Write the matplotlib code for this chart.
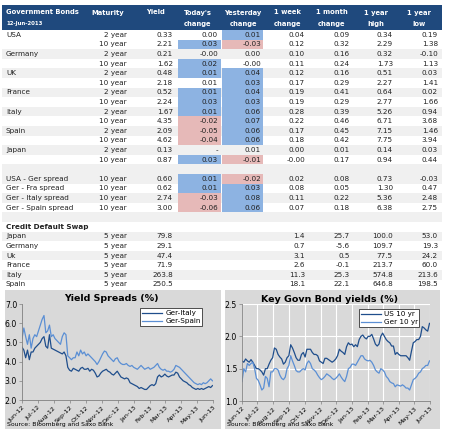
import matplotlib
matplotlib.use("Agg")
import matplotlib.pyplot as plt
import matplotlib.dates as mdates
from matplotlib.patches import Rectangle
import pandas as pd

# ---------------- table data ----------------
bond_country = ["USA", "", "Germany", "", "UK", "", "France", "", "Italy", "", "Spain", "", "Japan", ""]
bond_maturity = ["2 year", "10 year"] * 7
bond_yield = ["0.33", "2.21", "0.21", "1.62", "0.48", "2.18", "0.52", "2.24", "1.67", "4.35", "2.09", "4.62", "0.13", "0.87"]
bond_today = ["0.00", "0.03", "-0.00", "0.02", "0.01", "0.01", "0.01", "0.03", "0.01", "-0.02", "-0.05", "-0.04", "-", "0.03"]
bond_yday = ["0.01", "-0.03", "0.00", "-0.00", "0.04", "0.03", "0.04", "0.03", "0.06", "0.07", "0.06", "0.06", "0.01", "-0.01"]
bond_week = ["0.04", "0.12", "0.10", "0.11", "0.12", "0.17", "0.19", "0.19", "0.28", "0.22", "0.17", "0.18", "0.00", "-0.00"]
bond_month = ["0.09", "0.32", "0.16", "0.24", "0.16", "0.29", "0.41", "0.29", "0.39", "0.46", "0.45", "0.42", "0.01", "0.17"]
bond_high = ["0.34", "2.29", "0.32", "1.73", "0.51", "2.27", "0.64", "2.77", "5.26", "6.71", "7.15", "7.75", "0.14", "0.94"]
bond_low = ["0.19", "1.38", "-0.10", "1.13", "0.03", "1.41", "0.02", "1.66", "0.94", "3.68", "1.46", "3.94", "0.03", "0.44"]
bond_today_flag = ["", "b", "", "b", "b", "", "b", "b", "b", "p", "p", "p", "", "b"]
bond_yday_flag = ["b", "p", "", "", "b", "b", "b", "b", "b", "b", "b", "b", "", "p"]

spread_names = ["USA - Ger spread", "Ger - Fra spread", "Ger - Italy spread", "Ger - Spain spread"]
spread_maturity = ["10 year"] * 4
spread_yield = ["0.60", "0.62", "2.74", "3.00"]
spread_today = ["0.01", "0.01", "-0.03", "-0.06"]
spread_yday = ["-0.02", "0.03", "0.08", "0.06"]
spread_week = ["0.02", "0.08", "0.11", "0.07"]
spread_month = ["0.08", "0.05", "0.22", "0.18"]
spread_high = ["0.73", "1.30", "5.36", "6.38"]
spread_low = ["-0.03", "0.47", "2.48", "2.75"]
spread_today_flag = ["b", "b", "p", "p"]
spread_yday_flag = ["p", "b", "b", "b"]

cds_names = ["Japan", "Germany", "Uk", "France", "Italy", "Spain"]
cds_maturity = ["5 year"] * 6
cds_level = ["79.8", "29.1", "47.4", "71.9", "263.8", "250.5"]
cds_week = ["1.4", "0.7", "3.1", "2.6", "11.3", "18.1"]
cds_month = ["25.7", "-5.6", "0.5", "-0.1", "25.3", "22.1"]
cds_high = ["100.0", "109.7", "77.5", "213.7", "574.8", "646.8"]
cds_low = ["53.0", "19.3", "24.2", "60.0", "213.6", "198.5"]

header_labels = ["Maturity", "Yield", "Today's\nchange", "Yesterday\nchange", "1 week\nchange",
                 "1 month\nchange", "1 year\nhigh", "1 year\nlow"]

# ---------------- chart data (~every 3.5 days) ----------------
ger_italy = [4.75, 4.6, 4.2, 4.6, 4.1, 4.5, 4.5, 4.7, 4.8, 4.9, 5.0, 5.2, 5.3, 4.8, 4.7,
             5.4, 4.7, 4.65, 4.6, 4.55, 4.5, 4.45, 4.4, 4.5, 4.3, 3.7, 3.55, 3.5, 3.65, 3.6,
             3.55, 3.5, 3.65, 3.7, 3.6, 3.6, 3.65, 3.5, 3.6, 3.55, 3.4, 3.2, 3.25, 3.4, 3.5,
             3.55, 3.6, 3.5, 3.45, 3.35, 3.3, 3.4, 3.5, 3.35, 3.2, 3.15, 3.1, 3.15, 3.1, 2.9,
             2.85, 2.8, 2.75, 2.7, 2.6, 2.65, 2.6, 2.55, 2.55, 2.65, 2.75, 2.8, 2.75, 2.85, 3.2,
             3.3, 3.2, 3.25, 3.35, 3.25, 3.2, 3.25, 3.3, 3.3, 3.45, 3.4, 3.2, 3.1, 3.0, 2.95,
             2.9, 2.8, 2.75, 2.65, 2.6, 2.55, 2.6, 2.55, 2.6, 2.55, 2.6, 2.65, 2.7, 2.65, 2.75]
ger_spain = [5.2, 5.75, 5.3, 4.9, 5.4, 4.7, 5.2, 5.4, 5.3, 5.6, 5.9, 6.2, 6.4, 5.5, 5.6,
             5.9, 5.3, 5.4, 5.2, 5.1, 5.0, 4.9, 5.3, 5.5, 5.4, 4.3, 4.2, 4.1, 4.2, 4.2,
             4.5, 4.3, 4.6, 4.4, 4.5, 4.3, 4.4, 4.3, 4.2, 4.1, 4.0, 3.85, 4.0, 4.2, 4.4,
             4.55, 4.5, 4.3, 4.2, 4.1, 4.0, 4.15, 4.2, 4.0, 3.9, 3.85, 3.85, 3.9, 3.8, 3.75,
             3.8, 3.7, 3.65, 3.6, 3.7, 3.8, 3.7, 3.6, 3.65, 3.7, 3.6, 3.65, 3.7, 3.8, 3.9,
             3.7, 3.6, 3.55, 3.6, 3.5, 3.5, 3.45, 3.5, 3.6, 3.8, 3.75, 3.7, 3.6, 3.5, 3.4,
             3.3, 3.2, 3.1, 3.0, 2.9, 2.85, 2.8, 2.85, 2.8, 2.9, 2.85, 2.9, 3.0, 3.1, 3.0]
us_10yr = [1.62, 1.6, 1.65, 1.62, 1.6, 1.64, 1.6, 1.55, 1.5, 1.5, 1.48, 1.45, 1.4, 1.5, 1.5,
           1.57, 1.63, 1.67, 1.82, 1.8, 1.72, 1.68, 1.65, 1.57, 1.6, 1.67, 1.7, 1.87, 1.82, 1.75,
           1.67, 1.63, 1.63, 1.72, 1.75, 1.68, 1.8, 1.8, 1.8, 1.75, 1.72, 1.72, 1.7, 1.62, 1.6,
           1.58, 1.66, 1.66, 1.64, 1.62, 1.6, 1.62, 1.65, 1.7, 1.8, 1.77, 1.75, 1.72, 1.84, 1.9,
           1.87, 1.88, 1.84, 1.87, 1.84, 1.95, 2.0, 2.02, 1.98, 1.96, 2.0, 2.0, 2.03, 1.96, 1.88,
           1.85, 1.88, 2.0, 2.05, 2.0, 1.95, 1.92, 1.9, 1.85, 1.85, 1.72, 1.75, 1.72, 1.7, 1.7,
           1.7, 1.7, 1.67, 1.63, 1.77, 1.9, 1.92, 1.95, 1.95, 2.0, 2.15, 2.13, 2.1, 2.08, 2.2]
ger_10yr = [1.3, 1.5, 1.45, 1.58, 1.55, 1.58, 1.6, 1.5, 1.35, 1.32, 1.25, 1.17, 1.2, 1.38, 1.35,
            1.22, 1.45, 1.45, 1.5, 1.5, 1.48, 1.4, 1.35, 1.33, 1.37, 1.5, 1.55, 1.7, 1.62, 1.55,
            1.47, 1.45, 1.45, 1.48, 1.5, 1.48, 1.58, 1.62, 1.58, 1.5, 1.48, 1.45, 1.4, 1.36, 1.33,
            1.35, 1.38, 1.42, 1.4, 1.38, 1.35, 1.33, 1.35, 1.38, 1.42, 1.37, 1.33, 1.3, 1.38, 1.5,
            1.52, 1.57, 1.57, 1.55, 1.6, 1.65, 1.7, 1.7, 1.65, 1.63, 1.62, 1.63, 1.6, 1.55, 1.48,
            1.45, 1.43, 1.5, 1.48, 1.45, 1.38, 1.35, 1.3, 1.28, 1.27, 1.22, 1.25, 1.24, 1.23, 1.25,
            1.23, 1.2, 1.2, 1.17, 1.25, 1.33, 1.35, 1.38, 1.43, 1.45, 1.5, 1.52, 1.55, 1.55, 1.62]
dates = pd.date_range("2012-06-12", periods=len(ger_italy), freq="84h")

# ---------------- styling ----------------
W, H = 455, 444
HDR = "#1f497d"
GRAY_ROW = "#f0f0f0"
BLUE = "#8db3e2"
PINK = "#e6b9b8"
PANEL = "#d9d9d9"
DARK = "#1f4e8c"
LIGHT = "#5b8fd4"
FS = 5.2
HFS = 4.9

fig = plt.figure(figsize=(W / 100, H / 100), dpi=100)
fig.patch.set_facecolor("white")
axt = fig.add_axes([0, 0, 1, 1])
axt.set_xlim(0, W)
axt.set_ylim(H, 0)
axt.axis("off")

tx0, tx1 = 2, 442
# header
axt.add_patch(Rectangle((tx0, 5), tx1 - tx0, 25, color=HDR, lw=0))
axt.text(6, 12.5, "Government Bonds", color="white", fontsize=HFS, fontweight="bold", va="center", ha="left")
axt.text(6, 23.5, "12-Jun-2013", color="white", fontsize=3.9, fontweight="bold", va="center", ha="left")
hdr_centers = [108, 155, 198, 243, 288, 332, 376, 419]
for cx, lab in zip(hdr_centers, header_labels):
    lines = lab.split("\n")
    axt.text(cx, 12.5, lines[0], color="white", fontsize=HFS, fontweight="bold", va="center", ha="center")
    if len(lines) > 1:
        axt.text(cx, 24, lines[1], color="white", fontsize=HFS, fontweight="bold", va="center", ha="center")

col_right = [127, 173, 218, 261, 305, 350, 393, 438]
today_cell = (178, 221)
yday_cell = (222, 263)
row_h = 9.6
y0 = 30.0


def row_top(k):
    return y0 + k * row_h


gray_rows = {2, 4, 6, 8, 10, 12, 14, 15, 17, 19, 21, 23, 25}
for k in gray_rows:
    axt.add_patch(Rectangle((tx0, row_top(k)), tx1 - tx0, row_h, color=GRAY_ROW, lw=0, zorder=0))


def flag_color(f):
    return {"b": BLUE, "p": PINK}.get(f)


def draw_row(k, name, vals, tflag="", yflag="", bold=False):
    yc = row_top(k) + row_h / 2
    for f, (a, b) in ((tflag, today_cell), (yflag, yday_cell)):
        c = flag_color(f)
        if c:
            axt.add_patch(Rectangle((a, row_top(k)), b - a, row_h, color=c, lw=0, zorder=1))
    if name:
        axt.text(6, yc, name, fontsize=FS, va="center", ha="left", color="#222222",
                 fontweight="bold" if bold else "normal", zorder=3)
    for xr, v in zip(col_right, vals):
        if v is None:
            continue
        axt.text(xr, yc, v, fontsize=FS, va="center", ha="right", color="#222222", zorder=3)


for i in range(len(bond_country)):
    draw_row(i, bond_country[i],
             [bond_maturity[i], bond_yield[i], bond_today[i], bond_yday[i], bond_week[i],
              bond_month[i], bond_high[i], bond_low[i]],
             bond_today_flag[i], bond_yday_flag[i])
for j in range(len(spread_names)):
    draw_row(15 + j, spread_names[j],
             [spread_maturity[j], spread_yield[j], spread_today[j], spread_yday[j], spread_week[j],
              spread_month[j], spread_high[j], spread_low[j]],
             spread_today_flag[j], spread_yday_flag[j])
draw_row(20, "Credit Default Swap", [None] * 8, bold=True)
for j in range(len(cds_names)):
    draw_row(21 + j, cds_names[j],
             [cds_maturity[j], cds_level[j], None, None, cds_week[j], cds_month[j], cds_high[j], cds_low[j]])

# ---------------- chart panels ----------------
axt.add_patch(Rectangle((5, 290), 216, 139, color=PANEL, lw=0))
axt.add_patch(Rectangle((225, 290), 215, 139, color=PANEL, lw=0))
axt.text(111, 298.5, "Yield Spreads (%)", fontsize=6.8, fontweight="bold", ha="center", va="center")
axt.text(330, 299, "Key Govn Bond yields (%)", fontsize=6.8, fontweight="bold", ha="center", va="center")
axt.text(7, 424, "Source: Bloomberg and Saxo Bank", fontsize=4.4, ha="left", va="center")
axt.text(227, 424.5, "Source: Bloomberg and Saxo Bank", fontsize=4.4, ha="left", va="center")

tick_dates = pd.date_range("2012-06-12", "2013-06-12", freq=pd.DateOffset(months=1))


def frac(x0, x1, ytop, ybot):
    return [x0 / W, 1 - ybot / H, (x1 - x0) / W, (ybot - ytop) / H]


def style_axis(ax, yticks, grid):
    ax.set_facecolor(PANEL)
    ax.set_xlim(tick_dates[0], tick_dates[-1])
    ax.set_xticks(tick_dates)
    ax.xaxis.set_major_formatter(mdates.DateFormatter("%b-%y"))
    ax.set_yticks(yticks)
    ax.set_yticklabels([f"{v:.1f}" for v in yticks])
    ax.set_ylim(yticks[0], yticks[-1])
    for lab in ax.get_xticklabels():
        lab.set_rotation(45)
        lab.set_ha("right")
        lab.set_rotation_mode("anchor")
    ax.tick_params(axis="x", labelsize=4.6, length=2, width=0.5, color="#808080", pad=1.5)
    ax.tick_params(axis="y", labelsize=5.6, length=2, width=0.5, color="#808080", pad=1.5)
    for s in ("top", "right"):
        ax.spines[s].set_visible(False)
    for s in ("left", "bottom"):
        ax.spines[s].set_color("#808080")
        ax.spines[s].set_linewidth(0.6)
    if grid:
        ax.grid(True, color="white", lw=0.8)
        ax.set_axisbelow(True)


def add_legend(ax, x0, x1, ytop, ybot):
    leg = ax.legend(loc="upper left",
                    bbox_to_anchor=(x0 / W, 1 - ybot / H, (x1 - x0) / W, (ybot - ytop) / H),
                    bbox_transform=fig.transFigure, mode="expand", fontsize=5.2, frameon=True,
                    fancybox=False, edgecolor="#333333", handlelength=2.8, borderpad=0.3,
                    labelspacing=0.25, handletextpad=0.4, borderaxespad=0, framealpha=1)
    leg.get_frame().set_linewidth(0.6)
    return leg


ax1 = fig.add_axes(frac(22, 213, 304, 400))
ax1.plot(dates, ger_italy, color=DARK, lw=0.9, label="Ger-Italy")
ax1.plot(dates, ger_spain, color=LIGHT, lw=0.9, label="Ger-Spain")
style_axis(ax1, [2.0, 3.0, 4.0, 5.0, 6.0, 7.0], grid=False)
add_legend(ax1, 140, 202, 308, 329)

ax2 = fig.add_axes(frac(242, 430, 304, 401))
ax2.plot(dates, us_10yr, color=DARK, lw=0.9, label="US 10 yr")
ax2.plot(dates, ger_10yr, color=LIGHT, lw=0.9, label="Ger 10 yr")
style_axis(ax2, [1.0, 1.5, 2.0, 2.5], grid=True)
add_legend(ax2, 359, 419, 309, 329)

fig.savefig("out.png", dpi=100)
